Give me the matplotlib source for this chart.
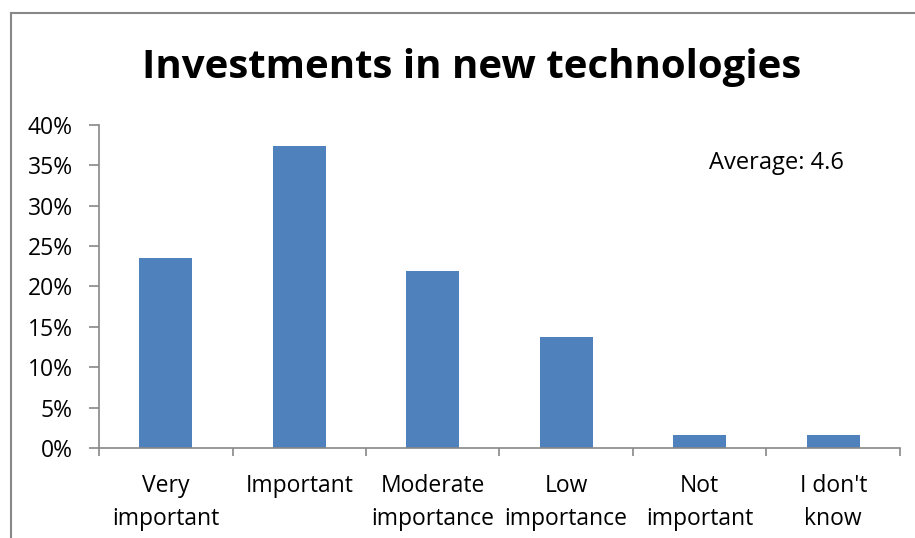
import matplotlib
matplotlib.use('Agg')
import matplotlib.pyplot as plt
from matplotlib.lines import Line2D
from matplotlib.ticker import PercentFormatter

# data
categories = ['Very\nimportant', 'Important', 'Moderate\nimportance',
              'Low\nimportance', 'Not\nimportant', "I don't\nknow"]
shares = [23.5, 37.4, 21.9, 13.8, 1.6, 1.6]
y_ticks = [0, 5, 10, 15, 20, 25, 30, 35, 40]
title = 'Investments in new technologies'
note = 'Average: 4.6'

plt.rcParams['font.family'] = ['Open Sans', 'DejaVu Sans']
grey = '#888888'

fig = plt.figure(figsize=(9.15, 5.38), dpi=100)
ax = fig.add_axes([0.1082, 0.1673, 0.8754, 0.6004])

x = range(len(categories))
ax.bar(x, shares, width=0.4, color='#4F81BD', zorder=2)

ax.set_xlim(-0.5, len(categories) - 0.5)
ax.set_ylim(0, 40)
ax.set_yticks(y_ticks)
ax.yaxis.set_major_formatter(PercentFormatter(decimals=0))

# boundary ticks between categories, labels centred under bars
ax.set_xticks([i - 0.5 for i in range(len(categories) + 1)])
ax.set_xticklabels([])
ax.set_xticks(list(x), minor=True)
ax.set_xticklabels(categories, minor=True, fontsize=16.5, linespacing=1.5)
ax.tick_params(axis='x', which='major', length=6, color=grey, width=1.2)
ax.tick_params(axis='x', which='minor', length=0, pad=19)
ax.tick_params(axis='y', length=7, color=grey, width=1.2, labelsize=16.5, pad=12)

for s in ['top', 'right']:
    ax.spines[s].set_visible(False)
for s in ['left', 'bottom']:
    ax.spines[s].set_color(grey)
    ax.spines[s].set_linewidth(1.2)

ax.text(0.7615, 0.882, note, transform=ax.transAxes, fontsize=17, va='center')
fig.text(0.515, 0.855, title, fontsize=29, fontweight='bold', ha='center', va='baseline')

# chart frame (cropped: only left and top edges visible)
fig.add_artist(Line2D([10.5 / 915, 10.5 / 915], [0, 1 - 13 / 538], color=grey, lw=1.5))
fig.add_artist(Line2D([10.5 / 915, 1], [1 - 13 / 538, 1 - 13 / 538], color=grey, lw=1.5))

fig.savefig('out.png', dpi=100)
